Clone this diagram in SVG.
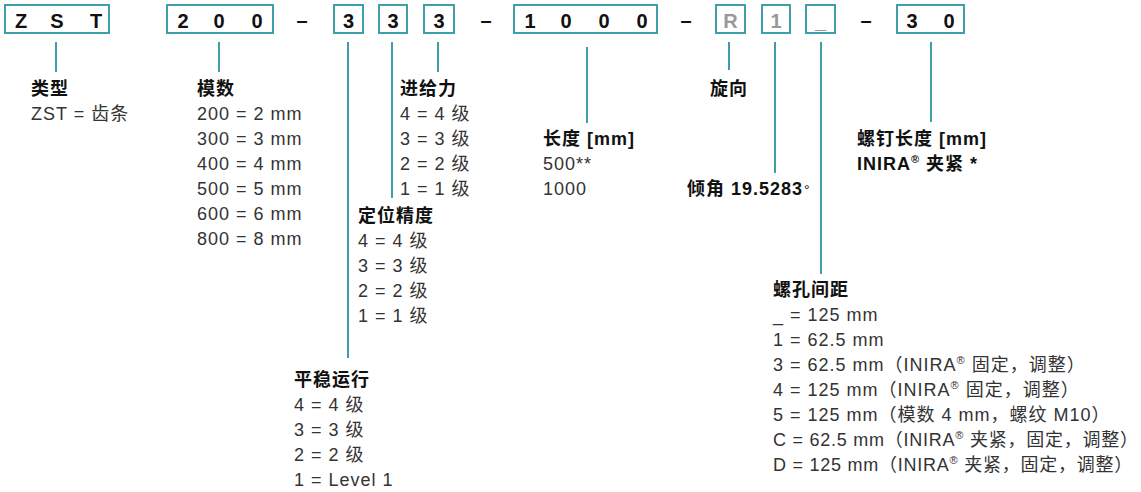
<svg xmlns="http://www.w3.org/2000/svg" width="1141" height="492" viewBox="0 0 1141 492">
<style>
.box{fill:none;stroke:#3e9fa9;stroke-width:2}
.ln{stroke:#3e9fa9;stroke-width:2;fill:none}
.code{font-family:"Liberation Sans","Noto Sans CJK SC",sans-serif;font-size:20px;font-weight:bold;fill:#111;text-anchor:middle}
.g{fill:#999}
.h{font-family:"Liberation Sans","Noto Sans CJK SC",sans-serif;font-size:18px;font-weight:bold;fill:#111;letter-spacing:1px}
.t{font-family:"Liberation Sans","Noto Sans CJK SC",sans-serif;font-size:18px;fill:#333;letter-spacing:1px}
.tight{letter-spacing:0.75px}
.sup{font-size:11px}
</style>
<rect width="1141" height="492" fill="#fff"/>
<g id="codes">
  <g id="box-zst"><rect class="box" x="5" y="5" width="104" height="28"/><text class="code" y="28"><tspan x="21">Z</tspan><tspan x="57">S</tspan><tspan x="96">T</tspan></text></g>
  <g id="box-module"><rect class="box" x="167" y="5" width="106" height="28"/><text class="code" y="28"><tspan x="183">2</tspan><tspan x="219">0</tspan><tspan x="257">0</tspan></text></g>
  <text class="code" x="302" y="27">–</text>
  <g id="box-smooth"><rect class="box" x="334" y="5" width="29" height="28"/><text class="code" x="348.5" y="28">3</text></g>
  <g id="box-accuracy"><rect class="box" x="379" y="5" width="28" height="28"/><text class="code" x="393" y="28">3</text></g>
  <g id="box-feed"><rect class="box" x="424" y="5" width="30" height="28"/><text class="code" x="439" y="28">3</text></g>
  <text class="code" x="486" y="27">–</text>
  <g id="box-length"><rect class="box" x="514" y="5" width="143" height="28"/><text class="code" y="28"><tspan x="530">1</tspan><tspan x="566">0</tspan><tspan x="604">0</tspan><tspan x="642">0</tspan></text></g>
  <text class="code" x="686" y="27">–</text>
  <g id="box-dir"><rect class="box" x="716" y="5" width="29" height="28"/><text class="code g" x="730.5" y="28">R</text></g>
  <g id="box-hole1"><rect class="box" x="762" y="5" width="28" height="28"/><text class="code g" x="776" y="28">1</text></g>
  <g id="box-hole2"><rect class="box" x="806" y="5" width="29" height="28"/><text class="code g" x="820.5" y="28">_</text></g>
  <text class="code" x="866" y="27">–</text>
  <g id="box-screw"><rect class="box" x="897" y="5" width="67" height="28"/><text class="code" y="28"><tspan x="912">3</tspan><tspan x="949">0</tspan></text></g>
</g>
<g id="connectors">
  <line class="ln" x1="56" y1="42" x2="56" y2="72"/>
  <line class="ln" x1="219" y1="42" x2="219" y2="72"/>
  <line class="ln" x1="348" y1="42" x2="348" y2="358"/>
  <line class="ln" x1="392" y1="42" x2="392" y2="198"/>
  <line class="ln" x1="438" y1="42" x2="438" y2="72"/>
  <line class="ln" x1="587" y1="47" x2="587" y2="123"/>
  <line class="ln" x1="729" y1="42" x2="729" y2="70"/>
  <line class="ln" x1="775" y1="42" x2="775" y2="173"/>
  <line class="ln" x1="821" y1="42" x2="821" y2="274"/>
  <line class="ln" x1="931" y1="42" x2="931" y2="122"/>
</g>
<g id="type">
  <text class="h" x="31" y="95">类型</text>
  <text class="t" x="31" y="120">ZST = 齿条</text>
</g>
<g id="module">
  <text class="h" x="197" y="95">模数</text>
  <text class="t" x="197" y="120">200 = 2 mm</text>
  <text class="t" x="197" y="145">300 = 3 mm</text>
  <text class="t" x="197" y="170">400 = 4 mm</text>
  <text class="t" x="197" y="195">500 = 5 mm</text>
  <text class="t" x="197" y="220">600 = 6 mm</text>
  <text class="t" x="197" y="245">800 = 8 mm</text>
</g>
<g id="feed">
  <text class="h" x="400" y="95">进给力</text>
  <text class="t" x="400" y="120">4 = 4 级</text>
  <text class="t" x="400" y="145">3 = 3 级</text>
  <text class="t" x="400" y="170">2 = 2 级</text>
  <text class="t" x="400" y="195">1 = 1 级</text>
</g>
<g id="accuracy">
  <text class="h" x="358" y="222">定位精度</text>
  <text class="t" x="358" y="247">4 = 4 级</text>
  <text class="t" x="358" y="272">3 = 3 级</text>
  <text class="t" x="358" y="297">2 = 2 级</text>
  <text class="t" x="358" y="322">1 = 1 级</text>
</g>
<g id="smooth">
  <text class="h" x="294" y="386">平稳运行</text>
  <text class="t" x="294" y="411">4 = 4 级</text>
  <text class="t" x="294" y="436">3 = 3 级</text>
  <text class="t" x="294" y="461">2 = 2 级</text>
  <text class="t" x="294" y="486">1 = Level 1</text>
</g>
<g id="length">
  <text class="h" x="543" y="145">长度 [mm]</text>
  <text class="t" x="543" y="170">500**</text>
  <text class="t" x="543" y="195">1000</text>
</g>
<g id="direction">
  <text class="h" x="710" y="95">旋向</text>
</g>
<g id="angle">
  <text class="h" x="687" y="195">倾角 19.5283<tspan font-weight="normal" font-size="14px" dx="1">°</tspan></text>
</g>
<g id="screw">
  <text class="h" x="857" y="145">螺钉长度 [mm]</text>
  <text class="h" x="857" y="170">INIRA<tspan class="sup" dy="-7">®</tspan><tspan dy="7"> 夹紧 *</tspan></text>
</g>
<g id="holes">
  <text class="h" x="773" y="296">螺孔间距</text>
  <text class="t" x="773" y="321">_ = 125 mm</text>
  <text class="t" x="773" y="346">1 = 62.5 mm</text>
  <text class="t" x="773" y="371">3 = 62.5 mm（INIRA<tspan class="sup" dy="-7">®</tspan><tspan dy="7"> 固定，调整）</tspan></text>
  <text class="t" x="773" y="396">4 = 125 mm（INIRA<tspan class="sup" dy="-7">®</tspan><tspan dy="7"> 固定，调整）</tspan></text>
  <text class="t" x="773" y="421">5 = 125 mm（模数 4 mm，螺纹 M10）</text>
  <text class="t tight" x="773" y="446">C = 62.5 mm（INIRA<tspan class="sup" dy="-7">®</tspan><tspan dy="7"> 夹紧，固定，调整）</tspan></text>
  <text class="t tight" x="773" y="471">D = 125 mm（INIRA<tspan class="sup" dy="-7">®</tspan><tspan dy="7"> 夹紧，固定，调整）</tspan></text>
</g>
</svg>
